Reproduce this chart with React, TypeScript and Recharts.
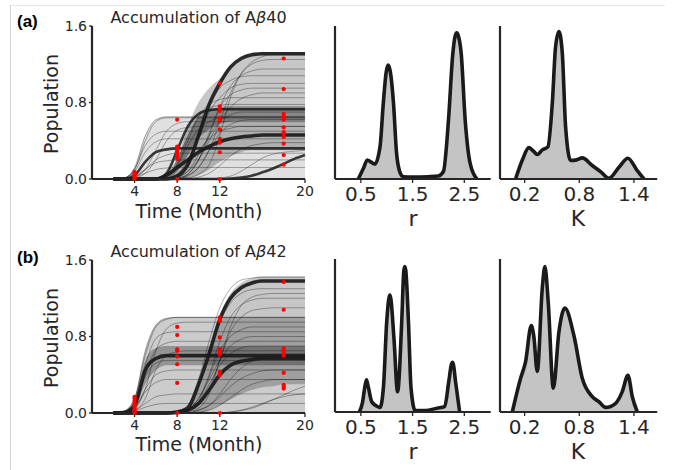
import { ComposedChart, AreaChart, Area, Line, Scatter, XAxis, YAxis } from 'recharts'

const FONT = 'DejaVu Sans, sans-serif'
const INK = '#262626'

// time grid (month) shared by every fitted trajectory
const TIME = [2, 3, 4, 5, 6, 7, 8, 9, 10, 11, 12, 13, 14, 15, 16, 17, 18, 19, 20]

// ---- panel (a) Abeta40: trajectory envelopes and representative curves
const aEarlyTop = [0, 0.01, 0.12, 0.45, 0.62, 0.65, 0.65, 0.65, 0.65, 0.65, 0.65, 0.65, 0.65, 0.65, 0.65, 0.65, 0.65, 0.65, 0.65]
const aMidLo = [0, 0, 0, 0, 0, 0, 0, 0.01, 0.04, 0.1, 0.18, 0.24, 0.28, 0.3, 0.3, 0.3, 0.3, 0.3, 0.3]
const aMidHi = [0, 0, 0, 0, 0, 0.03, 0.2, 0.55, 0.8, 0.95, 1.05, 1.17, 1.25, 1.3, 1.32, 1.32, 1.32, 1.32, 1.32]
const aBandLo = [0, 0, 0, 0, 0, 0, 0.08, 0.25, 0.42, 0.52, 0.58, 0.6, 0.61, 0.61, 0.61, 0.61, 0.61, 0.61, 0.61]
const aBandHi = [0, 0, 0, 0, 0, 0.03, 0.2, 0.45, 0.64, 0.72, 0.75, 0.76, 0.76, 0.76, 0.76, 0.76, 0.76, 0.76, 0.76]
const aTop = [0, 0, 0, 0, 0, 0, 0.03, 0.15, 0.45, 0.78, 1.0, 1.17, 1.26, 1.3, 1.31, 1.31, 1.31, 1.31, 1.31]
const aHigh = [0, 0, 0, 0, 0, 0.06, 0.3, 0.55, 0.68, 0.72, 0.73, 0.73, 0.73, 0.73, 0.73, 0.73, 0.73, 0.73, 0.73]
const aEarly = [0, 0, 0.04, 0.18, 0.28, 0.31, 0.32, 0.32, 0.32, 0.32, 0.32, 0.32, 0.32, 0.32, 0.32, 0.32, 0.32, 0.32, 0.32]
const aLate = [0, 0, 0, 0, 0, 0.04, 0.12, 0.2, 0.28, 0.34, 0.39, 0.42, 0.44, 0.45, 0.46, 0.46, 0.46, 0.46, 0.46]
const aVLate = [0, 0, 0, 0, 0, 0, 0, 0, 0, 0, 0, 0.005, 0.015, 0.035, 0.07, 0.11, 0.16, 0.21, 0.25]
const aThin1 = [0, 0.01, 0.1, 0.35, 0.47, 0.5, 0.5, 0.5, 0.5, 0.5, 0.5, 0.5, 0.5, 0.5, 0.5, 0.5, 0.5, 0.5, 0.5]
const aThin2 = [0, 0, 0.03, 0.1, 0.17, 0.19, 0.2, 0.2, 0.2, 0.2, 0.2, 0.2, 0.2, 0.2, 0.2, 0.2, 0.2, 0.2, 0.2]
const aThin3 = [0, 0, 0.02, 0.1, 0.3, 0.5, 0.58, 0.6, 0.6, 0.6, 0.6, 0.6, 0.6, 0.6, 0.6, 0.6, 0.6, 0.6, 0.6]
const aThin4 = [0, 0, 0, 0, 0, 0.01, 0.05, 0.2, 0.45, 0.7, 0.85, 0.95, 0.99, 1, 1, 1, 1, 1, 1]
const aThin5 = [0, 0, 0, 0, 0, 0, 0.02, 0.08, 0.2, 0.4, 0.6, 0.75, 0.84, 0.88, 0.9, 0.9, 0.9, 0.9, 0.9]
const aThin6 = [0, 0, 0, 0, 0, 0, 0, 0.05, 0.2, 0.45, 0.75, 0.97, 1.08, 1.13, 1.15, 1.15, 1.15, 1.15, 1.15]
const aThin7 = [0, 0, 0, 0, 0, 0.01, 0.05, 0.15, 0.3, 0.42, 0.5, 0.53, 0.55, 0.55, 0.55, 0.55, 0.55, 0.55, 0.55]
const aThin8 = [0, 0, 0, 0, 0, 0, 0, 0, 0.02, 0.06, 0.14, 0.24, 0.31, 0.35, 0.37, 0.38, 0.38, 0.38, 0.38]
const aThin9 = [0, 0, 0, 0, 0.01, 0.04, 0.15, 0.35, 0.52, 0.6, 0.64, 0.65, 0.65, 0.65, 0.65, 0.65, 0.65, 0.65, 0.65]
const aThin10 = [0, 0, 0, 0, 0, 0, 0.01, 0.04, 0.12, 0.3, 0.6, 0.9, 1.1, 1.2, 1.24, 1.25, 1.25, 1.25, 1.25]
const aThin11 = [0, 0.01, 0.08, 0.28, 0.39, 0.42, 0.42, 0.42, 0.42, 0.42, 0.42, 0.42, 0.42, 0.42, 0.42, 0.42, 0.42, 0.42, 0.42]
const aThin12 = [0, 0, 0.02, 0.06, 0.1, 0.115, 0.12, 0.12, 0.12, 0.12, 0.12, 0.12, 0.12, 0.12, 0.12, 0.12, 0.12, 0.12, 0.12]
const aThin13 = [0, 0, 0.01, 0.06, 0.2, 0.4, 0.51, 0.54, 0.55, 0.55, 0.55, 0.55, 0.55, 0.55, 0.55, 0.55, 0.55, 0.55, 0.55]
const aThin14 = [0, 0, 0.02, 0.1, 0.2, 0.25, 0.27, 0.27, 0.27, 0.27, 0.27, 0.27, 0.27, 0.27, 0.27, 0.27, 0.27, 0.27, 0.27]
const aThin15 = [0, 0.01, 0.1, 0.4, 0.6, 0.64, 0.64, 0.64, 0.64, 0.64, 0.64, 0.64, 0.64, 0.64, 0.64, 0.64, 0.64, 0.64, 0.64]
const aThin16 = [0, 0, 0, 0, 0, 0, 0, 0.01, 0.05, 0.15, 0.45, 0.85, 1.1, 1.22, 1.28, 1.3, 1.3, 1.3, 1.3]
const aThin17 = [0, 0, 0, 0, 0, 0.03, 0.15, 0.4, 0.65, 0.78, 0.83, 0.85, 0.85, 0.85, 0.85, 0.85, 0.85, 0.85, 0.85]
const aThin18 = [0, 0, 0, 0, 0, 0, 0.02, 0.08, 0.25, 0.45, 0.6, 0.67, 0.7, 0.7, 0.7, 0.7, 0.7, 0.7, 0.7]
const aThin19 = [0, 0, 0, 0, 0, 0.01, 0.04, 0.15, 0.45, 0.75, 0.95, 1.03, 1.07, 1.08, 1.08, 1.08, 1.08, 1.08, 1.08]
const aThin20 = [0, 0, 0, 0, 0.01, 0.05, 0.2, 0.45, 0.65, 0.74, 0.77, 0.78, 0.78, 0.78, 0.78, 0.78, 0.78, 0.78, 0.78]
const aThin21 = [0, 0, 0, 0, 0, 0, 0, 0.03, 0.12, 0.3, 0.48, 0.57, 0.61, 0.62, 0.62, 0.62, 0.62, 0.62, 0.62]
const aThin22 = [0, 0, 0, 0, 0, 0, 0, 0, 0, 0, 0.01, 0.03, 0.08, 0.15, 0.22, 0.26, 0.28, 0.29, 0.3]
const aThin23 = [0, 0, 0, 0, 0, 0, 0.01, 0.05, 0.2, 0.48, 0.75, 0.88, 0.93, 0.95, 0.95, 0.95, 0.95, 0.95, 0.95]

// observations (a)
const aObs4 = [0, 0.015, 0.03, 0.045, 0.06, 0.075]
const aObs8 = [0.62, 0.34, 0.32, 0.3, 0.28, 0.26, 0.24, 0.21, 0]
const aObs12 = [1.0, 0.76, 0.73, 0.71, 0.64, 0.61, 0.52, 0.42, 0.38, 0.28, 0]
const aObs18 = [1.26, 0.94, 0.68, 0.65, 0.62, 0.54, 0.49, 0.47, 0.44, 0.37, 0.25, 0.15]

// ---- panel (b) Abeta42
const bEarlyTop = [0, 0.02, 0.15, 0.65, 0.92, 0.99, 1, 1, 1, 1, 1, 1, 1, 1, 1, 1, 1, 1, 1]
const bMidLo = [0, 0, 0, 0, 0, 0, 0, 0, 0, 0.03, 0.08, 0.14, 0.2, 0.24, 0.27, 0.28, 0.3, 0.3, 0.3]
const bMidHi = [0, 0, 0, 0, 0, 0, 0, 0.06, 0.32, 0.68, 1.02, 1.25, 1.36, 1.41, 1.43, 1.43, 1.43, 1.43, 1.43]
const bBandLo = [0, 0, 0.05, 0.3, 0.45, 0.5, 0.5, 0.5, 0.5, 0.5, 0.5, 0.5, 0.5, 0.5, 0.5, 0.5, 0.5, 0.5, 0.5]
const bBandHi = [0, 0.01, 0.12, 0.55, 0.68, 0.7, 0.7, 0.7, 0.7, 0.7, 0.7, 0.7, 0.7, 0.7, 0.7, 0.7, 0.7, 0.7, 0.7]
const bEarly = [0, 0.005, 0.08, 0.45, 0.57, 0.6, 0.6, 0.6, 0.6, 0.6, 0.6, 0.6, 0.6, 0.6, 0.6, 0.6, 0.6, 0.6, 0.6]
const bTop = [0, 0, 0, 0, 0, 0, 0.01, 0.05, 0.3, 0.62, 0.98, 1.2, 1.31, 1.36, 1.38, 1.38, 1.38, 1.38, 1.38]
const bLate = [0, 0, 0, 0, 0, 0, 0.005, 0.03, 0.1, 0.24, 0.4, 0.5, 0.54, 0.56, 0.57, 0.57, 0.57, 0.57, 0.57]
const bThin1 = [0, 0.01, 0.1, 0.5, 0.78, 0.84, 0.85, 0.85, 0.85, 0.85, 0.85, 0.85, 0.85, 0.85, 0.85, 0.85, 0.85, 0.85, 0.85]
const bThin2 = [0, 0.01, 0.06, 0.22, 0.32, 0.35, 0.35, 0.35, 0.35, 0.35, 0.35, 0.35, 0.35, 0.35, 0.35, 0.35, 0.35, 0.35, 0.35]
const bThin3 = [0, 0, 0.04, 0.25, 0.65, 0.88, 0.94, 0.95, 0.95, 0.95, 0.95, 0.95, 0.95, 0.95, 0.95, 0.95, 0.95, 0.95, 0.95]
const bThin4 = [0, 0, 0, 0, 0, 0, 0, 0.03, 0.15, 0.4, 0.75, 1.0, 1.13, 1.18, 1.2, 1.2, 1.2, 1.2, 1.2]
const bThin5 = [0, 0, 0, 0, 0, 0, 0, 0.04, 0.15, 0.35, 0.55, 0.7, 0.77, 0.8, 0.8, 0.8, 0.8, 0.8, 0.8]
const bThin6 = [0, 0, 0, 0, 0, 0, 0.02, 0.08, 0.3, 0.65, 0.95, 1.15, 1.25, 1.29, 1.3, 1.3, 1.3, 1.3, 1.3]
const bThin7 = [0, 0, 0, 0, 0, 0, 0, 0, 0, 0, 0, 0.01, 0.025, 0.05, 0.09, 0.14, 0.19, 0.24, 0.28]
const bThin8 = [0, 0, 0, 0, 0, 0, 0, 0, 0.03, 0.08, 0.17, 0.28, 0.36, 0.41, 0.44, 0.45, 0.45, 0.45, 0.45]
const bThin9 = [0, 0.01, 0.07, 0.4, 0.66, 0.73, 0.75, 0.75, 0.75, 0.75, 0.75, 0.75, 0.75, 0.75, 0.75, 0.75, 0.75, 0.75, 0.75]
const bThin10 = [0, 0, 0.03, 0.1, 0.17, 0.19, 0.2, 0.2, 0.2, 0.2, 0.2, 0.2, 0.2, 0.2, 0.2, 0.2, 0.2, 0.2, 0.2]
const bThin11 = [0, 0.01, 0.08, 0.38, 0.52, 0.55, 0.55, 0.55, 0.55, 0.55, 0.55, 0.55, 0.55, 0.55, 0.55, 0.55, 0.55, 0.55, 0.55]
const bThin12 = [0, 0, 0.02, 0.06, 0.09, 0.1, 0.1, 0.1, 0.1, 0.1, 0.1, 0.1, 0.1, 0.1, 0.1, 0.1, 0.1, 0.1, 0.1]
const bThin13 = [0, 0, 0.02, 0.15, 0.45, 0.6, 0.64, 0.65, 0.65, 0.65, 0.65, 0.65, 0.65, 0.65, 0.65, 0.65, 0.65, 0.65, 0.65]
const bThin14 = [0, 0.02, 0.15, 0.6, 0.9, 0.98, 1.0, 1.0, 1.0, 1.0, 1.0, 1.0, 1.0, 1.0, 1.0, 1.0, 1.0, 1.0, 1.0]
const bThin15 = [0, 0.01, 0.05, 0.25, 0.4, 0.44, 0.45, 0.45, 0.45, 0.45, 0.45, 0.45, 0.45, 0.45, 0.45, 0.45, 0.45, 0.45, 0.45]
const bThin16 = [0, 0, 0, 0, 0, 0, 0.01, 0.08, 0.35, 0.75, 1.1, 1.3, 1.39, 1.41, 1.42, 1.42, 1.42, 1.42, 1.42]
const bThin17 = [0, 0, 0, 0, 0, 0, 0, 0.02, 0.08, 0.25, 0.55, 0.85, 1.0, 1.07, 1.09, 1.1, 1.1, 1.1, 1.1]
const bThin18 = [0, 0, 0, 0, 0, 0, 0, 0.02, 0.1, 0.3, 0.5, 0.62, 0.68, 0.7, 0.7, 0.7, 0.7, 0.7, 0.7]
const bThin19 = [0, 0, 0, 0, 0, 0, 0, 0, 0.03, 0.08, 0.2, 0.35, 0.47, 0.54, 0.58, 0.6, 0.6, 0.6, 0.6]
const bThin20 = [0, 0, 0, 0, 0, 0, 0, 0, 0.01, 0.03, 0.08, 0.16, 0.24, 0.3, 0.33, 0.35, 0.35, 0.35, 0.35]
const bThin21 = [0, 0, 0, 0, 0, 0, 0, 0, 0, 0, 0, 0.01, 0.03, 0.06, 0.1, 0.14, 0.17, 0.19, 0.2]
const bThin22 = [0, 0, 0, 0, 0, 0, 0, 0.03, 0.12, 0.38, 0.65, 0.8, 0.87, 0.9, 0.9, 0.9, 0.9, 0.9, 0.9]
const bThin23 = [0, 0, 0, 0, 0, 0, 0, 0.01, 0.05, 0.2, 0.55, 0.9, 1.12, 1.21, 1.24, 1.25, 1.25, 1.25, 1.25]

const bObs4 = [0.17, 0.155, 0.13, 0.11, 0.09, 0.07, 0.05, 0.03, 0.01, 0]
const bObs8 = [0.9, 0.815, 0.665, 0.65, 0.59, 0.51, 0.315, 0]
const bObs12 = [1.0, 0.96, 0.79, 0.665, 0.65, 0.63, 0.61, 0.43, 0.41, 0.395, 0]
const bObs18 = [1.37, 1.08, 0.675, 0.65, 0.63, 0.61, 0.6, 0.42, 0.295, 0.275, 0.255]

// ---- posterior densities (scaled to peak ~1)
const rA = [0.45, 0.55, 0.625, 0.7, 0.77, 0.87, 0.935, 0.99, 1.03, 1.07, 1.13, 1.19, 1.25, 1.32, 1.5, 1.8, 2.0, 2.097, 2.194, 2.278, 2.32, 2.355, 2.39, 2.44, 2.517, 2.614, 2.743]
const rAd = [0, 0.07, 0.124, 0.11, 0.098, 0.21, 0.5, 0.7, 0.745, 0.7, 0.5, 0.17, 0.05, 0.015, 0.012, 0.015, 0.02, 0.05, 0.385, 0.82, 0.93, 0.955, 0.93, 0.82, 0.385, 0.1, 0]
const kA = [0.101, 0.175, 0.247, 0.3, 0.339, 0.394, 0.456, 0.504, 0.54, 0.577, 0.614, 0.65, 0.705, 0.77, 0.833, 0.943, 1.04, 1.125, 1.24, 1.334, 1.43, 1.51]
const kAd = [0, 0.124, 0.205, 0.18, 0.16, 0.19, 0.21, 0.495, 0.865, 0.963, 0.82, 0.34, 0.121, 0.125, 0.138, 0.088, 0.045, 0.005, 0.08, 0.136, 0.06, 0]
const rB = [0.47, 0.53, 0.58, 0.61, 0.64, 0.71, 0.8, 0.87, 0.935, 1.0, 1.04, 1.06, 1.08, 1.14, 1.21, 1.29, 1.33, 1.35, 1.37, 1.42, 1.47, 1.55, 1.75, 1.97, 2.12, 2.2, 2.25, 2.27, 2.29, 2.33, 2.41]
const rBd = [0, 0.06, 0.17, 0.21, 0.17, 0.067, 0.04, 0.03, 0.155, 0.59, 0.74, 0.765, 0.74, 0.48, 0.133, 0.59, 0.92, 0.95, 0.92, 0.59, 0.157, 0.01, 0.01, 0.025, 0.035, 0.2, 0.31, 0.325, 0.31, 0.2, 0]
const kB = [0.065, 0.156, 0.211, 0.273, 0.3, 0.339, 0.394, 0.423, 0.46, 0.515, 0.577, 0.642, 0.741, 0.833, 0.943, 1.016, 1.089, 1.199, 1.272, 1.334, 1.382, 1.437]
const kBd = [0, 0.22, 0.33, 0.565, 0.5, 0.265, 0.81, 0.95, 0.71, 0.155, 0.525, 0.68, 0.5, 0.22, 0.1, 0.067, 0.03, 0.057, 0.133, 0.24, 0.1, 0]

const TIME_TICKS = [4, 8, 12, 20]
const POP_TICKS = [0, 0.8, 1.6]
const R_TICKS = [0.5, 1.5, 2.5]
const K_TICKS = [0.2, 0.8, 1.4]

const aThinSet = [aThin1, aThin2, aThin3, aThin4, aThin5, aThin6, aThin7, aThin8, aThin9, aThin10, aThin11, aThin12,
  aThin13, aThin14, aThin15, aThin16, aThin17, aThin18, aThin19, aThin20, aThin21, aThin22, aThin23]
const bThinSet = [bThin1, bThin2, bThin3, bThin4, bThin5, bThin6, bThin7, bThin8, bThin9, bThin10, bThin11, bThin12,
  bThin13, bThin14, bThin15, bThin16, bThin17, bThin18, bThin19, bThin20, bThin21, bThin22, bThin23]

function rowsFrom(single: Record<string, number[]>, thin: number[][], ranges: Record<string, [number[], number[]]>) {
  return TIME.map((t, i) => {
    const row: any = { t }
    Object.keys(single).forEach((k) => { row[k] = single[k][i] })
    thin.forEach((s, j) => { row['thin' + j] = s[i] })
    Object.keys(ranges).forEach((k) => { row[k] = [ranges[k][0][i], ranges[k][1][i]] })
    return row
  })
}

function obsFrom(groups: [number, number[]][]) {
  const pts: { t: number; v: number }[] = []
  groups.forEach(([t, vals]) => vals.forEach((v) => pts.push({ t, v })))
  return pts
}

const dot = (p: any) => <circle cx={p.cx} cy={p.cy} r={2.1} fill="#ff0000" />

interface CurveProps {
  top: number
  rows: any[]
  obs: { t: number; v: number }[]
  dark: string[]
  thick: string[]
  thinCount: number
  opac: { early: number; mid: number; band: number }
}

function CurvePanel({ top, rows, obs, dark, thick, thinCount, opac }: CurveProps) {
  const thinKeys = Array.from({ length: thinCount }, (_, j) => 'thin' + j)
  return (
    <div style={{ position: 'absolute', left: 0, top }}>
      <ComposedChart width={320} height={230} data={rows} margin={{ top: 26, right: 15, left: 42, bottom: 21 }}>
        <XAxis dataKey="t" type="number" domain={[0, 20]} ticks={TIME_TICKS} height={30}
          tick={{ fontSize: 14, fill: INK, fontFamily: FONT }} tickSize={4} tickMargin={3}
          axisLine={{ stroke: INK, strokeWidth: 2.2 }} tickLine={{ stroke: INK, strokeWidth: 1.3 }} />
        <YAxis type="number" domain={[0, 1.6]} ticks={POP_TICKS} width={50} tickFormatter={(v) => v.toFixed(1)}
          tick={{ fontSize: 14, fill: INK, fontFamily: FONT }} tickSize={3} tickMargin={2}
          axisLine={{ stroke: INK, strokeWidth: 2.2 }} tickLine={{ stroke: INK, strokeWidth: 1.3 }} />
        <Area dataKey="earlyTop" type="monotone" stroke="none" fill="#000" fillOpacity={opac.early} isAnimationActive={false} />
        <Area dataKey="mid" type="monotone" stroke="none" fill="#000" fillOpacity={opac.mid} isAnimationActive={false} />
        <Area dataKey="band" type="monotone" stroke="none" fill="#000" fillOpacity={opac.band} isAnimationActive={false} />
        {thinKeys.map((k) => (
          <Line key={k} dataKey={k} type="monotone" stroke="#000" strokeOpacity={0.32} strokeWidth={1} dot={false} isAnimationActive={false} />
        ))}
        <Line dataKey="earlyTop" type="monotone" stroke="#000" strokeOpacity={0.35} strokeWidth={1} dot={false} isAnimationActive={false} />
        {dark.map((k) => (
          <Line key={k} dataKey={k} type="monotone" stroke="#1a1a1a" strokeOpacity={0.85} strokeWidth={2.6} dot={false} isAnimationActive={false} />
        ))}
        {thick.map((k) => (
          <Line key={k} dataKey={k} type="monotone" stroke="#1a1a1a" strokeOpacity={0.92} strokeWidth={3.6} dot={false} isAnimationActive={false} />
        ))}
        <Scatter data={obs} dataKey="v" shape={dot} isAnimationActive={false} />
      </ComposedChart>
    </div>
  )
}

interface DensProps {
  left: number
  top: number
  width: number
  xs: number[]
  ds: number[]
  domain: [number, number]
  ticks: number[]
}

function DensityPanel({ left, top, width, xs, ds, domain, ticks }: DensProps) {
  const data = xs.map((x, i) => ({ x, d: ds[i] }))
  return (
    <div style={{ position: 'absolute', left: left - 15, top: top - 25 }}>
      <AreaChart width={width + 20} height={228} data={data} margin={{ top: 25, right: 5, left: 5, bottom: 10 }}>
        <XAxis dataKey="x" type="number" domain={domain} ticks={ticks} height={40} allowDataOverflow
          tick={{ fontSize: 20, fill: INK, fontFamily: FONT }} tickSize={4} tickMargin={4}
          axisLine={{ stroke: INK, strokeWidth: 2.2 }} tickLine={{ stroke: INK, strokeWidth: 1.3 }} />
        <YAxis type="number" domain={[0, 1]} width={10} tick={false} tickLine={false}
          axisLine={{ stroke: INK, strokeWidth: 2.2 }} />
        <Area dataKey="d" type="monotone" stroke="#1a1a1a" strokeWidth={3.6} fill="#c4c4c4" fillOpacity={1} isAnimationActive={false} />
      </AreaChart>
    </div>
  )
}

export default function App() {
  const rowsA = rowsFrom(
    { earlyTop: aEarlyTop, aTop, aHigh, aEarly, aLate, aVLate },
    aThinSet,
    { mid: [aMidLo, aMidHi], band: [aBandLo, aBandHi] },
  )
  const rowsB = rowsFrom(
    { earlyTop: bEarlyTop, bEarly, bTop, bLate },
    bThinSet,
    { mid: [bMidLo, bMidHi], band: [bBandLo, bBandHi] },
  )
  const obsA = obsFrom([[4, aObs4], [8, aObs8], [12, aObs12], [18, aObs18]])
  const obsB = obsFrom([[4, bObs4], [8, bObs8], [12, bObs12], [18, bObs18]])

  const label = { fontFamily: FONT, fill: INK }
  return (
    <div style={{ position: 'absolute', left: 0, top: 0, width: 675, height: 470, background: '#fff', overflow: 'hidden' }}>
      <div style={{ position: 'absolute', left: 10, top: 5, width: 655, height: 1, background: '#e6e6e6' }} />
      <div style={{ position: 'absolute', left: 10, top: 5, width: 1, height: 465, background: '#d4d4d4' }} />

      <CurvePanel top={0} rows={rowsA} obs={obsA}
        dark={['aHigh', 'aEarly', 'aVLate']} thick={['aTop', 'aLate']}
        thinCount={aThinSet.length}
        opac={{ early: 0.12, mid: 0.22, band: 0.32 }} />
      <CurvePanel top={234} rows={rowsB} obs={obsB}
        dark={[]} thick={['bEarly', 'bTop', 'bLate']}
        thinCount={bThinSet.length}
        opac={{ early: 0.2, mid: 0.22, band: 0.28 }} />

      <DensityPanel left={335} top={25.5} width={155.7} xs={rA} ds={rAd} domain={[0, 3.01]} ticks={R_TICKS} />
      <DensityPanel left={499.5} top={25.5} width={157.2} xs={kA} ds={kAd} domain={[-0.07, 1.655]} ticks={K_TICKS} />
      <DensityPanel left={335} top={259} width={155.7} xs={rB} ds={rBd} domain={[0, 3.01]} ticks={R_TICKS} />
      <DensityPanel left={499.5} top={259} width={157.2} xs={kB} ds={kBd} domain={[-0.07, 1.655]} ticks={K_TICKS} />

      <svg width={675} height={470} style={{ position: 'absolute', left: 0, top: 0, pointerEvents: 'none' }}>
        <text x={17} y={27} fontFamily="Liberation Sans, Arial, sans-serif" fontWeight="bold" fontSize={17} fill="#000">(a)</text>
        <text x={17} y={263} fontFamily="Liberation Sans, Arial, sans-serif" fontWeight="bold" fontSize={17} fill="#000">(b)</text>
        <text x={198.5} y={22.5} textAnchor="middle" fontSize={16} {...label}>
          Accumulation of A<tspan fontStyle="italic">β</tspan>40
        </text>
        <text x={198.5} y={256.5} textAnchor="middle" fontSize={16} {...label}>
          Accumulation of A<tspan fontStyle="italic">β</tspan>42
        </text>
        <text x={199} y={218} textAnchor="middle" fontSize={19} {...label}>Time (Month)</text>
        <text x={199} y={451} textAnchor="middle" fontSize={19} {...label}>Time (Month)</text>
        <text transform="translate(58,104) rotate(-90)" textAnchor="middle" fontSize={19} {...label}>Population</text>
        <text transform="translate(58,338) rotate(-90)" textAnchor="middle" fontSize={19} {...label}>Population</text>
        <text x={413} y={226} textAnchor="middle" fontSize={22} {...label}>r</text>
        <text x={578} y={226} textAnchor="middle" fontSize={22} {...label}>K</text>
        <text x={413} y={459} textAnchor="middle" fontSize={22} {...label}>r</text>
        <text x={578} y={459} textAnchor="middle" fontSize={22} {...label}>K</text>
      </svg>
    </div>
  )
}
